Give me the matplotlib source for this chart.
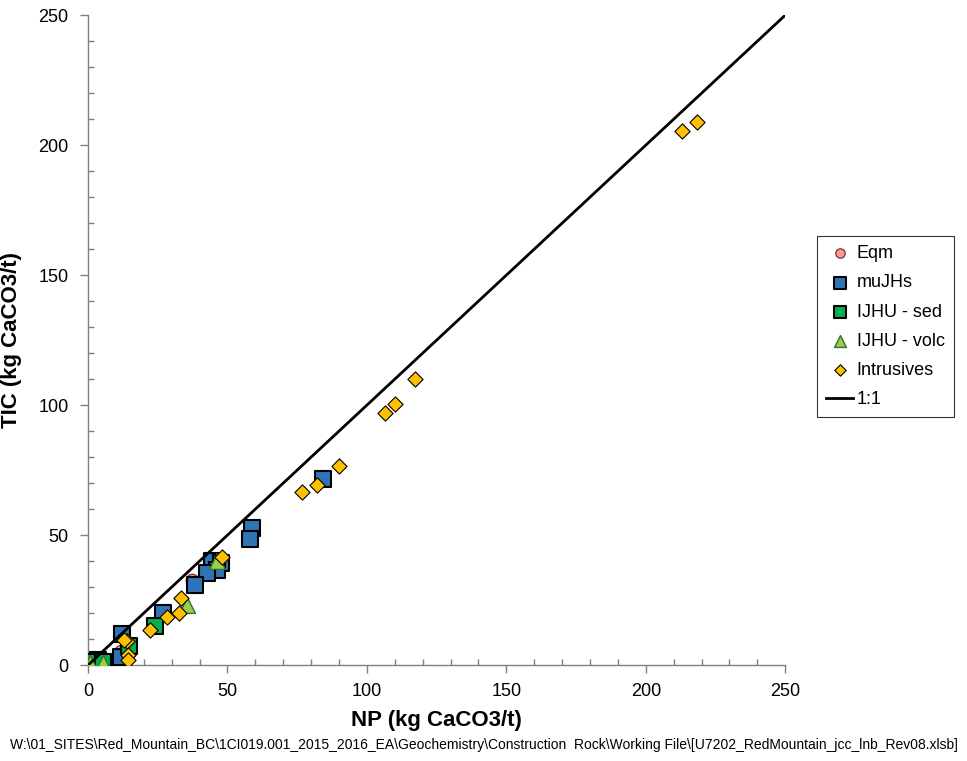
import matplotlib
matplotlib.use("Agg")
import matplotlib.pyplot as plt
from matplotlib.ticker import MultipleLocator

plt.rcParams['font.family'] = ['Liberation Sans', 'DejaVu Sans']

# NP vs TIC by lithology (kg CaCO3/t)
eqm_np = [37.3, 11.8]
eqm_tic = [32.7, 5.4]

mujhs_np = [58.8, 58.1, 44.5, 47.7, 46.3, 42.7, 38.4, 26.9, 12.2, 11.8, 84.3, 3.6]
mujhs_tic = [52.7, 48.5, 40.0, 39.2, 36.5, 35.4, 30.8, 20.0, 11.9, 3.0, 71.5, 1.9]

ijhu_sed_np = [24.0, 14.7, 1.4, 5.4]
ijhu_sed_tic = [15.0, 7.3, 1.2, 1.2]

ijhu_volc_np = [46.3, 35.5, 0.7, 5.4]
ijhu_volc_tic = [40.0, 23.0, 0.8, 0.7]

intr_np = [218.4, 213.0, 117.3, 110.1, 106.5, 90.0, 82.1, 76.8, 48.0, 33.4,
           32.6, 28.3, 22.2, 14.0, 12.9, 14.3, 14.3]
intr_tic = [208.8, 205.4, 110.0, 100.4, 96.9, 76.5, 69.2, 66.5, 41.5, 25.8,
            20.0, 18.5, 13.5, 9.2, 9.6, 3.8, 1.9]

one_to_one = [0, 250]

fig = plt.figure(figsize=(9.67, 7.61), dpi=100)
ax = fig.add_axes([0.091, 0.126, 0.721, 0.854])

ax.scatter(eqm_np, eqm_tic, s=80, marker='o', facecolor='#FF9999',
           edgecolor='#7F3F3F', linewidth=1.0, label='Eqm', zorder=3)
ax.scatter(mujhs_np, mujhs_tic, s=120, marker='s', facecolor='#2E75B6',
           edgecolor='black', linewidth=1.5, label='muJHs', zorder=3)
ax.scatter(ijhu_sed_np, ijhu_sed_tic, s=120, marker='s', facecolor='#00B050',
           edgecolor='black', linewidth=1.5, label='IJHU - sed', zorder=3)
ax.scatter(ijhu_volc_np, ijhu_volc_tic, s=130, marker='^', facecolor='#92D050',
           edgecolor='#3F6F1F', linewidth=1.0, label='IJHU - volc', zorder=3)
ax.plot(one_to_one, one_to_one, color='black', linewidth=2.0, label='1:1', zorder=4)
ax.scatter(intr_np, intr_tic, s=60, marker='D', facecolor='#FFC000',
           edgecolor='black', linewidth=0.8, label='Intrusives', zorder=5)

ax.set_xlim(0, 250)
ax.set_ylim(0, 250)
ax.xaxis.set_major_locator(MultipleLocator(50))
ax.yaxis.set_major_locator(MultipleLocator(50))
ax.xaxis.set_minor_locator(MultipleLocator(10))
ax.yaxis.set_minor_locator(MultipleLocator(10))
ax.tick_params(which='major', direction='out', length=6, color='#808080',
               labelsize=13, width=1)
ax.tick_params(which='minor', direction='in', length=4, color='#808080', width=1)
ax.tick_params(axis='x', pad=7)
ax.tick_params(axis='y', pad=8)
for side in ('top', 'right'):
    ax.spines[side].set_visible(False)
for side in ('left', 'bottom'):
    ax.spines[side].set_color('#808080')
    ax.spines[side].set_linewidth(1.0)

ax.set_xlabel('NP (kg CaCO3/t)', fontsize=16, fontweight='bold', labelpad=7)
ax.set_ylabel('TIC (kg CaCO3/t)', fontsize=16, fontweight='bold')
ax.yaxis.set_label_coords(-0.095, 0.5)

handles, labels = ax.get_legend_handles_labels()
order = ['Eqm', 'muJHs', 'IJHU - sed', 'IJHU - volc', 'Intrusives', '1:1']
hmap = dict(zip(labels, handles))
leg = fig.legend([hmap[k] for k in order], order, loc='upper left',
                 bbox_to_anchor=(817 / 967, 1 - 236 / 761), fontsize=13,
                 frameon=True, fancybox=False, edgecolor='black',
                 handlelength=1.5, handletextpad=0.2, labelspacing=0.68,
                 borderpad=0.5, borderaxespad=0.0, markerscale=0.75,
                 scatterpoints=1)
leg.get_frame().set_linewidth(0.8)

fig.text(0.5, 1 - 745 / 761,
         r'W:\01_SITES\Red_Mountain_BC\1CI019.001_2015_2016_EA\Geochemistry\Construction  Rock\Working File\[U7202_RedMountain_jcc_lnb_Rev08.xlsb]',
         ha='center', va='center', fontsize=10)

fig.savefig('out.png', dpi=100)
